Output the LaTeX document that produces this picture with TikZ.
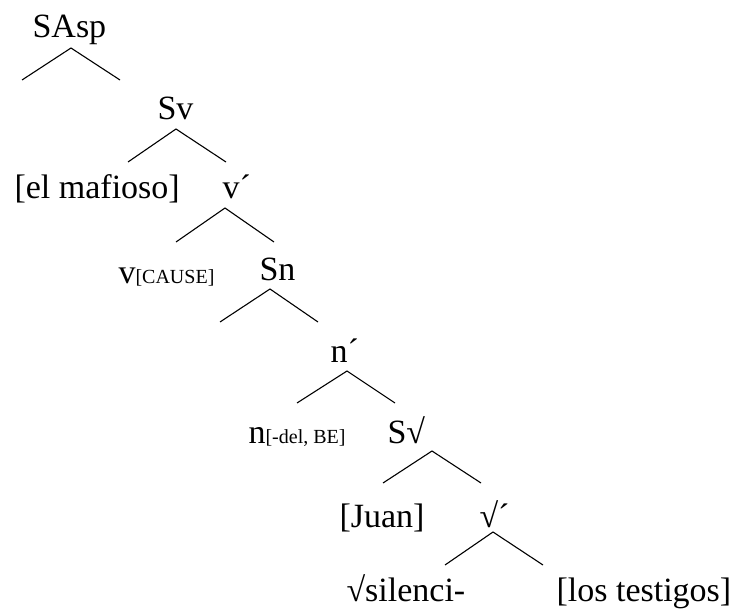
\documentclass[tikz,border=0pt]{standalone}
\usepackage{fontspec}
\setmainfont{Liberation Serif}

\newcommand{\gross}{\fontsize{34}{40}\selectfont}
\newcommand{\klein}{\fontsize{20}{24}\selectfont}

\begin{document}
\begin{tikzpicture}[x=1pt,y=-1pt,line width=1.1pt,
	wort/.style={anchor=base west,inner sep=0pt,font=\gross}]

\useasboundingbox (0,0) rectangle (739,610);

\def\zweig#1{
	\draw (#1-l)--(#1-o)--(#1-r);
}

% Beschriftungen
\node[wort] (SAsp)   at (32,38)   {SAsp};
\node[wort] (Sv)     at (157,119) {Sv};
\node[wort] (mafia)  at (14,198)  {[el mafioso]};
\node[wort] (vbar)   at (222,198) {v´};
\node[wort] (vcause) at (118,283) {v{\klein[CAUSE]}};
\node[wort] (Sn)     at (259,280) {Sn};
\node[wort] (nbar)   at (330,362) {n´};
\node[wort] (nbe)    at (248,443) {n{\klein[-del, BE]}};
\node[wort] (Swurz)  at (387,443) {S√};
\node[wort] (juan)   at (339,527) {[Juan]};
\node[wort] (wbar)   at (479,527) {√´};
\node[wort] (silen)  at (346,601) {√silenci-};
\node[wort] (testi)  at (556,601) {[los testigos]};

% Aeste
\coordinate (SAsp-o) at (71,48);   \coordinate (SAsp-l) at (22,80);   \coordinate (SAsp-r) at (120,80);
\coordinate (Sv-o)   at (176,129); \coordinate (Sv-l)   at (128,162); \coordinate (Sv-r)   at (226,162);
\coordinate (vbar-o) at (225,208); \coordinate (vbar-l) at (176,242); \coordinate (vbar-r) at (274,242);
\coordinate (Sn-o)   at (270,289); \coordinate (Sn-l)   at (220,322); \coordinate (Sn-r)   at (318,322);
\coordinate (nbar-o) at (347,371); \coordinate (nbar-l) at (297,403); \coordinate (nbar-r) at (395,403);
\coordinate (Sw-o)   at (432,451); \coordinate (Sw-l)   at (383,483); \coordinate (Sw-r)   at (481,483);
\coordinate (wbar-o) at (493,532); \coordinate (wbar-l) at (445,565); \coordinate (wbar-r) at (543,565);

\zweig{SAsp}
\zweig{Sv}
\zweig{vbar}
\zweig{Sn}
\zweig{nbar}
\zweig{Sw}
\zweig{wbar}

\end{tikzpicture}
\end{document}
